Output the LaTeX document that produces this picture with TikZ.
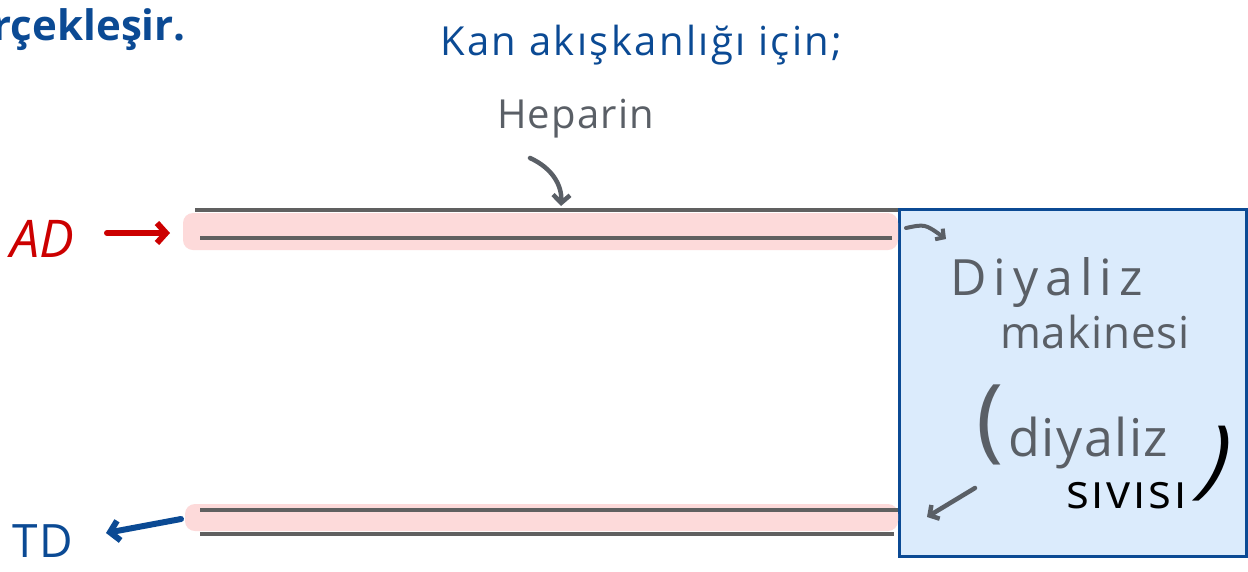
\documentclass[tikz,border=0pt]{standalone}
\usepackage{fontspec}
\setmainfont{Open Sans}
\usetikzlibrary{arrows.meta}
\definecolor{penblue}{HTML}{0B4A94}
\definecolor{penred}{HTML}{CC0000}
\definecolor{pengray}{HTML}{5A5F66}
\definecolor{tubegray}{HTML}{606060}
\definecolor{pinkband}{HTML}{FDDADA}
\definecolor{boxfill}{HTML}{DBEBFC}
\newcommand{\handfont}[2]{\fontsize{#1}{#1}\selectfont\addfontfeature{LetterSpace=#2}}
\tikzset{
  hand/.style={inner sep=0pt, anchor=base west},
  tubeline/.style={draw=tubegray, line width=3.4pt},
  band/.style={fill=pinkband, rounded corners=10pt},
  pen/.style={line width=6pt, line cap=round, line join=round, -{Straight Barb[length=9pt,width=20pt]}},
}
\begin{document}
\begin{tikzpicture}[x=1pt,y=-1pt]
\useasboundingbox (0,0) rectangle (1248,571);
\clip (0,0) rectangle (1248,571);
\fill[white] (0,0) rectangle (1248,571);

% header fragment
\node[inner sep=0pt, font=\fontsize{42}{42}\selectfont\bfseries, text=penblue, anchor=base east] (hdr) at (186,40) {rçekleşir.};

% annotations
\node[hand, text=penblue, font=\handfont{40}{6}] (kan) at (440,55) {Kan akışkanlığı için;};
\node[hand, text=pengray, font=\handfont{40}{3}] (hep) at (497,128) {Heparin};

% box
\node[draw=penblue, fill=boxfill, line width=3.2pt, minimum width=347pt, minimum height=347pt, anchor=north west, inner sep=0pt] (box) at (898,208) {};

% pink bands
\fill[band] (183,213) rectangle (898,250);
\fill[band] (185,504) rectangle (898,531);

% tubes
\coordinate (u1) at (195,210);
\coordinate (u2) at (200,238);
\coordinate (l1) at (200,510);
\coordinate (l2) at (200,534);
\draw[tubeline] (u1) -- (u1 -| box.west);
\draw[tubeline] (u2) -- ([xshift=-6pt]u2 -| box.west);
\draw[tubeline] (l1) -- (l1 -| box.west);
\draw[tubeline] (l2) -- ([xshift=-4pt]l2 -| box.west);

% AD / TD
\node[hand, text=penred, font=\fontsize{52}{52}\selectfont\itshape] (ad) at (10,257) {AD};
\node[hand, text=penblue, font=\handfont{46}{4}] (td) at (12,557) {TD};
\coordinate (adstart) at (107,233);
\coordinate (adend) at (170,233);
\draw[pen, penred] (adstart) -- (adend);
\coordinate (tdstart) at (181,519);
\coordinate (tdend) at (106,533);
\draw[pen, penblue] (tdstart) -- (tdend);

% heparin arrow
\coordinate (hepstart) at (530,158);
\coordinate (hepend) at (561,206);
\draw[pen, pengray, line width=4.5pt, -{Straight Barb[length=8pt,width=17pt]}] (hepstart) .. controls (552,168) and (562,185) .. (hepend);

% box texts
\node[hand, text=pengray, font=\handfont{50}{14}] (d1) at (950,295) {Diyaliz};
\node[hand, text=pengray, font=\handfont{44}{2}] (d2) at (1000,348) {makinesi};
\node[inner sep=0pt, text=pengray, font=\fontsize{92}{92}\selectfont] (lp) at (990,425) {(};
\node[hand, text=pengray, font=\handfont{52}{3}] (d3) at (1008,456) {diyaliz};
\node[hand, text=black, font=\handfont{48}{6}] (d4) at (1066,508) {sıvısı};
\node[inner sep=0pt, text=black, font=\fontsize{86}{86}\selectfont, xslant=0.35] (rp) at (1216,464) {)};

% small arrows in box
\coordinate (inA) at (906,228);
\coordinate (inB) at (946,239);
\draw[pen, line width=4pt, pengray, -{Straight Barb[length=6pt,width=13pt]}] (inA) .. controls (925,224) .. (inB);
\coordinate (outA) at (975,488);
\coordinate (outB) at (927,517);
\draw[pen, line width=4.5pt, pengray, -{Straight Barb[length=7pt,width=16pt]}] (outA) -- (outB);
\end{tikzpicture}
\end{document}
